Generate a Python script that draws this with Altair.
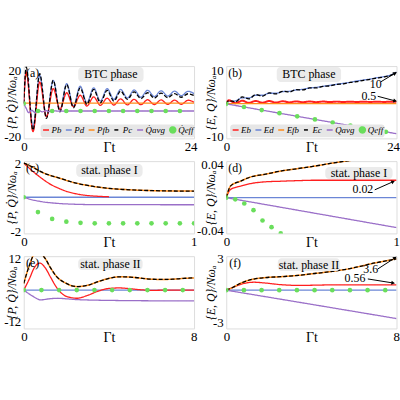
import altair as alt
import pandas as pd

FONT = "Liberation Serif"

P_NAMES = ["Pb", "Pd", "Pfb", "Pc", "Q̇avg", "Q̇eff"]
E_NAMES = ["Eb", "Ed", "Efb", "Ec", "Qavg", "Qeff"]
COLORS = ["#ff1f1f", "#6b86d6", "#ff8c1a", "#000000", "#9a6fc8", "#6ade5c"]
DASHES = [[1, 0], [1, 0], [1, 0], [4, 2], [1, 0], [1, 0]]
SHAPES = ["stroke", "stroke", "stroke", "stroke", "stroke", "circle"]

# ---------------- panel (a): BTC phase, powers ----------------
a_t = [0, 0.35, 1.3, 2.25, 3.2, 4.15, 5.1, 6.05, 7.0, 7.95, 8.9, 9.85, 10.8, 11.75,
       12.7, 13.65, 14.6, 15.55, 16.5, 17.45, 18.4, 19.35, 20.3, 21.25, 22.2, 23.15, 24]
a_pb = [0, 19, -17, 13, -8, 9, -3.5, 6.5, -2, 5, -1.5, 4, -1.1, 3.2, -0.9, 2.8, -0.8,
        2.5, -0.7, 2.3, -0.6, 2.2, -0.5, 2.1, -0.5, 2.0, 0.8]
a_pd = [0, 20, -14, 17, -8, 14, -4, 12, -1.5, 10.5, 0.5, 9.5, 1.5, 9, 2.5, 8.5, 3.3,
        8.2, 3.8, 8, 4.2, 7.7, 4.5, 7.5, 4.7, 7.4, 6.0]
a_pc = [0, 22, -16, 18, -9, 14, -5, 11.5, -2.5, 9.5, -0.5, 8.5, 0.5, 8, 1.5, 7.5, 2.5,
        7, 3, 6.5, 3.3, 6.3, 3.6, 6, 3.8, 5.9, 4.8]
a_pfb_t = [0, 24]
a_pfb = [0.2, 0.2]
a_qavg_t = [0, 0.3, 0.7, 1.1, 1.6, 2.1, 2.6, 3.1, 3.6, 4.2, 5, 6, 8, 24]
a_qavg = [0, -2.5, -5.5, -4.0, -5.4, -4.1, -5.0, -4.3, -4.8, -4.4, -4.6, -4.5, -4.5, -4.5]
a_qeff_t = [0, 2, 4, 6, 8, 10, 12, 14, 16, 18, 20, 22]
a_qeff = [0, -4.5, -4.5, -4.5, -4.5, -4.5, -4.5, -4.5, -4.5, -4.5, -4.5, -4.5]

# ---------------- panel (b): BTC phase, energies ----------------
b_ec = [0, 1.0, 0.6, 2.1, 1.5, 2.8, 2.3, 3.3, 3.0, 3.8, 3.6, 4.3, 4.2, 4.8, 4.8, 5.3,
        5.4, 5.9, 6.0, 6.5, 6.7, 7.1, 7.4, 7.8, 8.1, 8.6, 9.5]
b_ed = [0, 0.7, 0.9, 1.8, 1.8, 2.6, 2.6, 3.2, 3.2, 3.7, 3.8, 4.2, 4.4, 4.8, 5.0, 5.3,
        5.6, 5.9, 6.2, 6.5, 6.9, 7.2, 7.5, 7.9, 8.2, 8.7, 9.6]
b_eb = [0, 1.1, 0.2, 0.95, 0.3, 0.9, 0.35, 0.85, 0.4, 0.8, 0.45, 0.75, 0.5, 0.72,
        0.52, 0.7, 0.55, 0.68, 0.56, 0.66, 0.57, 0.65, 0.58, 0.64, 0.59, 0.63, 0.6]
b_efb_t = [0, 24]
b_efb = [0.1, 0.1]
b_qavg_t = [0, 6, 12, 18, 24]
b_qavg = [0, -2.25, -4.5, -6.75, -9.0]
b_qeff_t = [0, 2.5, 5, 7.5, 10, 12.5, 15, 17.5, 20, 22.5]
b_qeff = [0, -0.94, -1.88, -2.81, -3.75, -4.69, -5.63, -6.56, -7.5, -8.44]

# ---------------- panel (c): stat. phase I, powers ----------------
c_t = [0, 0.05, 0.1, 0.15, 0.2, 0.3, 0.4, 0.5, 0.6, 0.8, 1.0]
c_pc = [2.0, 1.78, 1.5, 1.3, 1.15, 0.85, 0.65, 0.52, 0.45, 0.38, 0.36]
c_pb_t = [0, 0.05, 0.1, 0.15, 0.2, 0.25, 0.3, 0.35, 0.4, 0.45, 0.5]
c_pb = [2.0, 1.55, 1.15, 0.8, 0.55, 0.35, 0.22, 0.13, 0.08, 0.05, 0.03]
c_pd_t = [0, 1]
c_pd = [0, 0]
c_qavg_t = [0, 0.05, 0.1, 0.2, 0.3, 0.4, 1.0]
c_qavg = [0, -0.15, -0.25, -0.36, -0.41, -0.43, -0.44]
c_qeff_t = [0, 0.0833, 0.1667, 0.25, 0.3333, 0.4167, 0.5, 0.5833, 0.6667, 0.75,
            0.8333, 0.9167, 1.0]
c_qeff = [0, -0.87, -1.27, -1.43, -1.5, -1.53, -1.53, -1.53, -1.53, -1.53, -1.53,
          -1.53, -1.53]

# ---------------- panel (d): stat. phase I, energies ----------------
d_t = [0, 0.026, 0.085, 0.144, 0.223, 0.32, 0.42, 0.52, 0.62, 0.7, 0.85, 1.0]
d_ec = [0, 0.0142, 0.020, 0.025, 0.028, 0.032, 0.035, 0.038, 0.0415, 0.044, 0.048, 0.052]
d_eb = [0, 0.010, 0.014, 0.017, 0.019, 0.0198, 0.0205, 0.021, 0.021, 0.021, 0.021, 0.021]
d_ed_t = [0, 1]
d_ed = [0, 0]
d_qavg_t = [0, 0.5, 1.0]
d_qavg = [0, -0.018, -0.036]
d_qeff_t = [0, 0.053, 0.106, 0.16, 0.213, 0.266, 0.32, 0.373]
d_qeff = [0, -0.002, -0.007, -0.015, -0.0275, -0.0355, -0.043, -0.05]

# ---------------- panel (e): stat. phase II, powers ----------------
e_t = [0, 0.25, 0.5, 0.75, 1.0, 1.25, 1.5, 2.0, 2.5, 3.0, 3.5, 4.0, 4.5, 5.0, 5.5,
       6.0, 6.5, 7.0, 7.5, 8.0]
e_pc = [2.5, 9, 13.5, 14, 12, 8.5, 5.5, 2.5, 1.3, 1.8, 3.2, 4.4, 5.0, 4.9, 4.5, 4.1,
        4.0, 4.1, 4.4, 4.6]
e_pb_t = [0, 0.25, 0.5, 0.75, 1.0, 1.25, 1.5, 1.75, 2.0, 2.5, 3.0, 3.5, 4.0, 4.5, 5.0,
          5.5, 6.0, 7.0, 8.0]
e_pb = [0, 4, 8.5, 10.2, 8.5, 5, 1.5, -1, -2.4, -3.1, -2.0, -0.4, 0.6, 0.8, 0.5, 0.1,
        -0.1, 0, 0]
e_pd_t = [0, 8]
e_pd = [0, 0]
e_qavg_t = [0, 0.4, 0.8, 1.2, 1.6, 2.0, 2.5, 3.0, 4, 5, 6, 8]
e_qavg = [0, -2.2, -3.7, -3.3, -3.1, -3.3, -3.6, -3.75, -3.9, -4.0, -4.05, -4.1]
e_qeff_t = [0, 0.83, 1.66, 2.49, 3.32, 4.15, 4.98, 5.81, 6.64, 7.47]
e_qeff = [0, 0, 0, 0, 0, 0, 0, 0, 0, 0]

# ---------------- panel (f): stat. phase II, energies ----------------
f_t = [0, 0.3, 0.68, 1.0, 1.3, 1.8, 2.57, 3.4, 4.15, 5.0, 5.73, 6.3, 6.83, 7.4, 8.0]
f_ec = [0, 0.25, 0.66, 0.9, 1.05, 1.18, 1.27, 1.4, 1.57, 1.78, 2.0, 2.25, 2.5, 2.72, 2.95]
f_eb = [0, 0.25, 0.55, 0.7, 0.75, 0.68, 0.52, 0.45, 0.47, 0.5, 0.5, 0.5, 0.5, 0.5, 0.5]
f_ed_t = [0, 8]
f_ed = [0, 0]
f_qavg_t = [0, 4, 8]
f_qavg = [0, -1.33, -2.67]
f_qeff_t = [0, 0.83, 1.66, 2.49, 3.32, 4.15, 4.98, 5.81, 6.64, 7.47]
f_qeff = [0, 0, 0, 0, 0, 0, 0, 0, 0, 0]

W, H = 172, 73


def frame(t, v, name):
    return pd.DataFrame({"t": t, "v": v, "s": [name] * len(t)})


def panel(names, lines, dots, xdom, ydom, xvals, yvals, yfmt, ytitle, ytx,
          tag, phase, box, legend_xy=None, notes=()):
    cscale = alt.Scale(domain=names, range=COLORS)
    dscale = alt.Scale(domain=names, range=DASHES)
    sscale = alt.Scale(domain=names, range=SHAPES)
    if legend_xy is not None:
        leg = alt.Legend(title=None, orient="none", legendX=legend_xy[0],
                         legendY=legend_xy[1], direction="horizontal",
                         gridAlign="none",
                         fillColor="#e6e6e6", padding=1, cornerRadius=3,
                         symbolSize=36, symbolStrokeWidth=1.5,
                         labelFont=FONT, labelFontSize=9, labelFontStyle="italic",
                         labelOffset=1, columnPadding=1, labelColor="black")
    else:
        leg = None
    xaxis = alt.Axis(values=xvals, format="d", title="Γt", titleY=2,
                     titleBaseline="top", titleFont=FONT, titleFontSize=14,
                     titleFontWeight="normal", titleColor="black",
                     labelFont=FONT, labelFontSize=13, labelColor="black",
                     labelPadding=2, ticks=False, domain=False, grid=False,
                     labelFlush=True, labelFlushOffset=3)
    yaxis = alt.Axis(values=yvals, format=yfmt,
                     labelExpr="replace(datum.label, '−', '-')",
                     title=ytitle, titleX=ytx, titleBaseline="middle",
                     titleAngle=270, titleFont=FONT, titleFontSize=12,
                     titleFontWeight="normal", titleFontStyle="italic",
                     titleColor="black", labelFont=FONT, labelFontSize=13,
                     labelColor="black", labelPadding=3, ticks=False,
                     domain=False, grid=False, minExtent=22, maxExtent=22)
    X = alt.X("t:Q", scale=alt.Scale(domain=xdom, nice=False, zero=False), axis=xaxis)
    Y = alt.Y("v:Q", scale=alt.Scale(domain=ydom, nice=False, zero=False), axis=yaxis)
    layers = []
    for df, width in lines:
        layers.append(
            alt.Chart(df).mark_line(clip=True, interpolate="monotone",
                                    strokeWidth=width).encode(
                x=X, y=Y,
                color=alt.Color("s:N", scale=cscale, legend=leg),
                strokeDash=alt.StrokeDash("s:N", scale=dscale, legend=leg),
            )
        )
    layers.append(
        alt.Chart(dots).mark_point(filled=True, size=22, opacity=1, clip=True).encode(
            x=X, y=Y,
            color=alt.Color("s:N", scale=cscale, legend=leg),
            shape=alt.Shape("s:N", scale=sscale, legend=leg),
        )
    )
    one = pd.DataFrame({"k": [0]})
    layers.append(
        alt.Chart(one).mark_rect(fill="#ebebeb", cornerRadius=4).encode(
            x=alt.value(box[0]), x2=alt.value(box[1]),
            y=alt.value(box[2]), y2=alt.value(box[3]))
    )
    layers.append(
        alt.Chart(one).mark_text(text=phase, font=FONT, fontSize=12,
                                 color="black").encode(
            x=alt.value((box[0] + box[1]) / 2), y=alt.value((box[2] + box[3]) / 2))
    )
    layers.append(
        alt.Chart(one).mark_text(text=tag, font=FONT, fontSize=12,
                                 color="black").encode(
            x=alt.value(9), y=alt.value(7))
    )
    for txt, tx, ty, x1, y1, x2, y2, ang in notes:
        layers.append(
            alt.Chart(one).mark_text(text=txt, font=FONT, fontSize=12,
                                     color="black").encode(
                x=alt.value(tx), y=alt.value(ty))
        )
        layers.append(
            alt.Chart(one).mark_rule(color="black", strokeWidth=1).encode(
                x=alt.value(x1), y=alt.value(y1), x2=alt.value(x2), y2=alt.value(y2))
        )
        layers.append(
            alt.Chart(one).mark_point(shape="triangle", filled=True, size=18,
                                      color="black", opacity=1, angle=ang).encode(
                x=alt.value(x2), y=alt.value(y2))
        )
    return alt.layer(*layers).properties(width=W, height=H)


P_TITLE = "{P, Q̇}/Nωₐ"
E_TITLE = "{E, Q}/Nωₐ"

pa = panel(P_NAMES,
           [(frame(a_t, a_pd, "Pd"), 1.3), (frame(a_t, a_pb, "Pb"), 1.3),
            (frame(a_pfb_t, a_pfb, "Pfb"), 1.3), (frame(a_t, a_pc, "Pc"), 1.3),
            (frame(a_qavg_t, a_qavg, "Q̇avg"), 1.3)],
           frame(a_qeff_t, a_qeff, "Q̇eff"),
           [0, 24], [-21, 22.6], [0, 24], [-20, 20], "d", P_TITLE, -12,
           "(a)", "BTC phase", (55, 121, 1, 16), legend_xy=(17, 59))

pb = panel(E_NAMES,
           [(frame(a_t, b_ed, "Ed"), 1.3), (frame(a_t, b_eb, "Eb"), 2.0),
            (frame(b_efb_t, b_efb, "Efb"), 1.3), (frame(a_t, b_ec, "Ec"), 1.3),
            (frame(b_qavg_t, b_qavg, "Qavg"), 1.3)],
           frame(b_qeff_t, b_qeff, "Qeff"),
           [0, 24], [-10.4, 11.4], [0, 24], [-10, 10], "d", E_TITLE, -16,
           "(b)", "BTC phase", (51, 116, 1, 16), legend_xy=(4, 59),
           notes=[("10", 151, 18, 156, 16, 170, 7.5, 60),
                  ("0.5", 144, 30, 153, 30.5, 170, 35, 104)])

pc = panel(P_NAMES,
           [(frame(c_pd_t, c_pd, "Pd"), 1.3), (frame(c_pb_t, c_pb, "Pb"), 1.3),
            (frame(c_t, c_pc, "Pfb"), 1.5), (frame(c_t, c_pc, "Pc"), 1.3),
            (frame(c_qavg_t, c_qavg, "Q̇avg"), 1.3)],
           frame(c_qeff_t, c_qeff, "Q̇eff"),
           [0, 1], [-2.12, 2.12], [0, 1], [-2, 2], "d", P_TITLE, -12,
           "(c)", "stat. phase I", (53, 120, 3, 16))

pd_ = panel(E_NAMES,
            [(frame(d_ed_t, d_ed, "Ed"), 1.3), (frame(d_t, d_eb, "Eb"), 1.3),
             (frame(d_t, d_ec, "Efb"), 1.5), (frame(d_t, d_ec, "Ec"), 1.3),
             (frame(d_qavg_t, d_qavg, "Qavg"), 1.3)],
            frame(d_qeff_t, d_qeff, "Qeff"),
            [0, 1], [-0.043, 0.044], [0, 1], [-0.04, 0.04], ".2f", E_TITLE, -16,
            "(d)", "stat. phase I", (100, 168, 6, 18),
            notes=[("0.02", 138, 28, 150, 29, 168, 21, 66)])

pe = panel(P_NAMES,
           [(frame(e_pd_t, e_pd, "Pd"), 1.3), (frame(e_pb_t, e_pb, "Pb"), 1.3),
            (frame(e_t, e_pc, "Pfb"), 1.5), (frame(e_t, e_pc, "Pc"), 1.3),
            (frame(e_qavg_t, e_qavg, "Q̇avg"), 1.3)],
           frame(e_qeff_t, e_qeff, "Q̇eff"),
           [0, 8], [-14.5, 12.8], [0, 8], [-12, 12], "d", P_TITLE, -12,
           "(e)", "stat. phase II", (55, 120, 2, 14))

pf = panel(E_NAMES,
           [(frame(f_ed_t, f_ed, "Ed"), 1.3), (frame(f_t, f_eb, "Eb"), 1.3),
            (frame(f_t, f_ec, "Efb"), 1.5), (frame(f_t, f_ec, "Ec"), 1.3),
            (frame(f_qavg_t, f_qavg, "Qavg"), 1.3)],
           frame(f_qeff_t, f_qeff, "Qeff"),
           [0, 8], [-3.6, 3.2], [0, 8], [-3, 3], "d", E_TITLE, -16,
           "(f)", "stat. phase II", (52, 115, 2, 15),
           notes=[("3.6", 146, 13, 153, 13, 170, 2, 55),
                  ("0.56", 130, 22.5, 143, 23, 168, 27, 98)])

RES = dict(x="independent", y="independent", color="independent",
           strokeDash="independent", shape="independent")


def row(left, right):
    return alt.hconcat(left, right, spacing=32.5, bounds="flush").resolve_scale(**RES)


chart = alt.vconcat(row(pa, pb), row(pc, pd_), row(pe, pf),
                    spacing=1).resolve_scale(**RES).properties(
    padding={"left": 1, "top": 62, "right": 0, "bottom": 0}
).configure_view(stroke="black", strokeWidth=1).configure(font=FONT)

chart.save("out.html", embed_options={"renderer": "svg", "actions": False})
